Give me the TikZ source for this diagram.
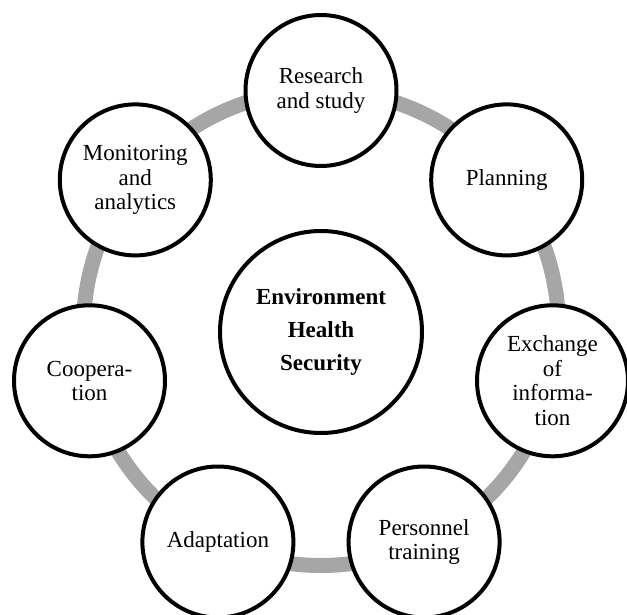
\documentclass[tikz,border=0pt]{standalone}
\usepackage{fontspec}
\setmainfont{Liberation Serif}
\definecolor{ringgray}{HTML}{A6A6A6}
\begin{document}
\begin{tikzpicture}[x=1pt,y=-1pt,
  ring/.style={draw=ringgray,line width=15pt},
  item/.style={circle,draw=black,line width=4pt,fill=white,minimum size=151pt,inner sep=0pt,align=center,font=\fontsize{23}{24.5}\selectfont},
  hub/.style={circle,draw=black,line width=4pt,fill=white,minimum size=202pt,inner sep=0pt,align=center,font=\bfseries\fontsize{23}{33}\selectfont}]
\useasboundingbox (0,0) rectangle (627,615);
\coordinate (c) at (321,328);
\draw[ring] (c) circle (237.5);
\node[hub] (hub) at (321,332) {Environment\\Health\\Security};
\node[item] (research) at (321,90.5) {Research\\and study};
\node[item] (planning) at (506.7,179.9) {Planning};
\node[item] (exchange) at (552.5,380.8) {Exchange\\of\\informa-\\tion};
\node[item] (personnel) at (424.1,542) {Personnel\\training};
\node[item] (adaptation) at (217.9,542) {Adaptation};
\node[item] (cooperation) at (89.5,380.8) {Coopera-\\tion};
\node[item] (monitoring) at (135.3,179.9) {Monitoring\\and\\analytics};
\end{tikzpicture}
\end{document}
